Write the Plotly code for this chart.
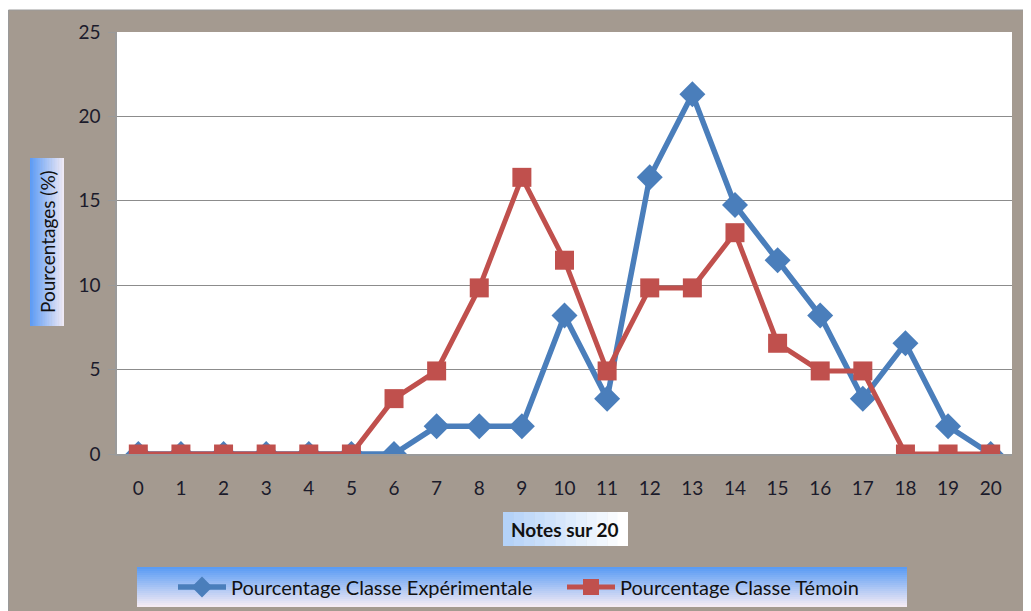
import plotly.graph_objects as go

notes = [str(i) for i in range(21)]
exp_pct = [0, 0, 0, 0, 0, 0, 0, 1.64, 1.64, 1.64, 8.2, 3.28, 16.39, 21.31, 14.75, 11.48, 8.2, 3.28, 6.56, 1.64, 0]
tem_pct = [0, 0, 0, 0, 0, 0, 3.28, 4.92, 9.84, 16.39, 11.48, 4.92, 9.84, 9.84, 13.11, 6.56, 4.92, 4.92, 0, 0, 0]
y_ticks = [0, 5, 10, 15, 20, 25]

# page body has an 8px margin: figure starts at page (8, 8)
OFF = 8
W, H = 1031 - OFF, 611 - OFF
L, R, T, B = 117 - OFF, 19, 32 - OFF, 611 - 454
PW, PH = W - L - R, H - T - B

def px(x):  # page x -> paper fraction
    return (x - OFF - L) / PW

def py(y):  # page y -> paper fraction
    return (H - B - (y - OFF)) / PH

def hexrgb(h):
    h = h.lstrip('#')
    return tuple(int(h[i:i + 2], 16) for i in (0, 2, 4))

def mix(c1, c2, t):
    a, b = hexrgb(c1), hexrgb(c2)
    return 'rgb(%d,%d,%d)' % tuple(round(a[i] + (b[i] - a[i]) * t) for i in range(3))

shapes = []

def gradient_box(x0, y0, x1, y1, c0, c1, horizontal, n=24):
    for i in range(n):
        t = i / (n - 1)
        if horizontal:
            a = x0 + (x1 - x0) * i / n
            b = x0 + (x1 - x0) * (i + 1) / n + 0.5
            shapes.append(dict(type='rect', xref='paper', yref='paper', x0=px(a), x1=px(min(b, x1)),
                               y0=py(y1), y1=py(y0), fillcolor=mix(c0, c1, t), line=dict(width=0), layer='below'))
        else:
            a = y0 + (y1 - y0) * i / n
            b = y0 + (y1 - y0) * (i + 1) / n + 0.5
            shapes.append(dict(type='rect', xref='paper', yref='paper', x0=px(x0), x1=px(x1),
                               y0=py(min(b, y1)), y1=py(a), fillcolor=mix(c0, c1, t), line=dict(width=0), layer='below'))

# thin white strip on top of the textured frame, and its grey border
shapes.append(dict(type='rect', xref='paper', yref='paper', x0=px(8), x1=px(1031), y0=py(10), y1=py(8),
                   fillcolor='white', line=dict(width=0), layer='below'))
shapes.append(dict(type='rect', xref='paper', yref='paper', x0=px(8.5), x1=px(1035), y0=py(615), y1=py(10),
                   fillcolor='rgba(0,0,0,0)', line=dict(width=1, color='#9a9a9a'), layer='below'))

# y-title box, x-title box, legend box
gradient_box(30, 158, 64, 326, '#5d9cf6', '#efeaf6', True)
gradient_box(503, 512, 628, 546, '#b4d2f8', '#ffffff', True, n=12)
gradient_box(137, 567, 907, 607, '#5b9cf4', '#f4ebf4', False, n=20)

fig = go.Figure()
fig.add_trace(go.Scatter(
    x=notes, y=exp_pct, mode='lines+markers', name='Pourcentage Classe Expérimentale',
    line=dict(color='#4A7EBB', width=5.5),
    marker=dict(symbol='diamond', size=20, color='#4A7EBB'),
    legend='legend',
))
fig.add_trace(go.Scatter(
    x=notes, y=tem_pct, mode='lines+markers', name='Pourcentage Classe Témoin',
    line=dict(color='#C0504D', width=5),
    marker=dict(symbol='square', size=19, color='#C0504D'),
    legend='legend2',
))

font_family = 'Lato, "Open Sans", sans-serif'
leg_common = dict(orientation='h', yanchor='middle', y=py(587), xanchor='left',
                  bgcolor='rgba(0,0,0,0)', font=dict(size=20, color='#111'), itemwidth=48)

fig.update_layout(
    width=W, height=H,
    margin=dict(l=L, r=R, t=T, b=B, pad=0, autoexpand=False),
    paper_bgcolor='#a49a90',
    plot_bgcolor='white',
    font=dict(family=font_family, size=19, color='#1b1b2b'),
    showlegend=True,
    legend=dict(x=px(173), **leg_common),
    legend2=dict(x=px(562), **leg_common),
    xaxis=dict(type='category', range=[-0.5, 20.5], showgrid=False, showline=True,
               linecolor='#9a9a9a', linewidth=1.5, ticks='', ticklabelstandoff=16,
               tickfont=dict(size=19), zeroline=False),
    yaxis=dict(range=[0, 25], tickvals=y_ticks, showgrid=True, gridcolor='#8c8c8c', gridwidth=1.3,
               showline=True, linecolor='#9a9a9a', linewidth=1.5, ticks='outside', ticklen=7,
               tickcolor='#9a9a9a', ticklabelstandoff=4, tickfont=dict(size=19), zeroline=False),
    shapes=shapes,
    annotations=[
        dict(text='Pourcentages (%)', xref='paper', yref='paper', x=px(47), y=py(242),
             xanchor='center', yanchor='middle',
             showarrow=False, textangle=-90, font=dict(size=19, color='#111')),
        dict(text='<b>Notes sur 20</b>', xref='paper', yref='paper', x=px(565), y=py(529),
             xanchor='center', yanchor='middle',
             showarrow=False, font=dict(size=19, color='#111')),
    ],
)

fig.write_html('out.html')
